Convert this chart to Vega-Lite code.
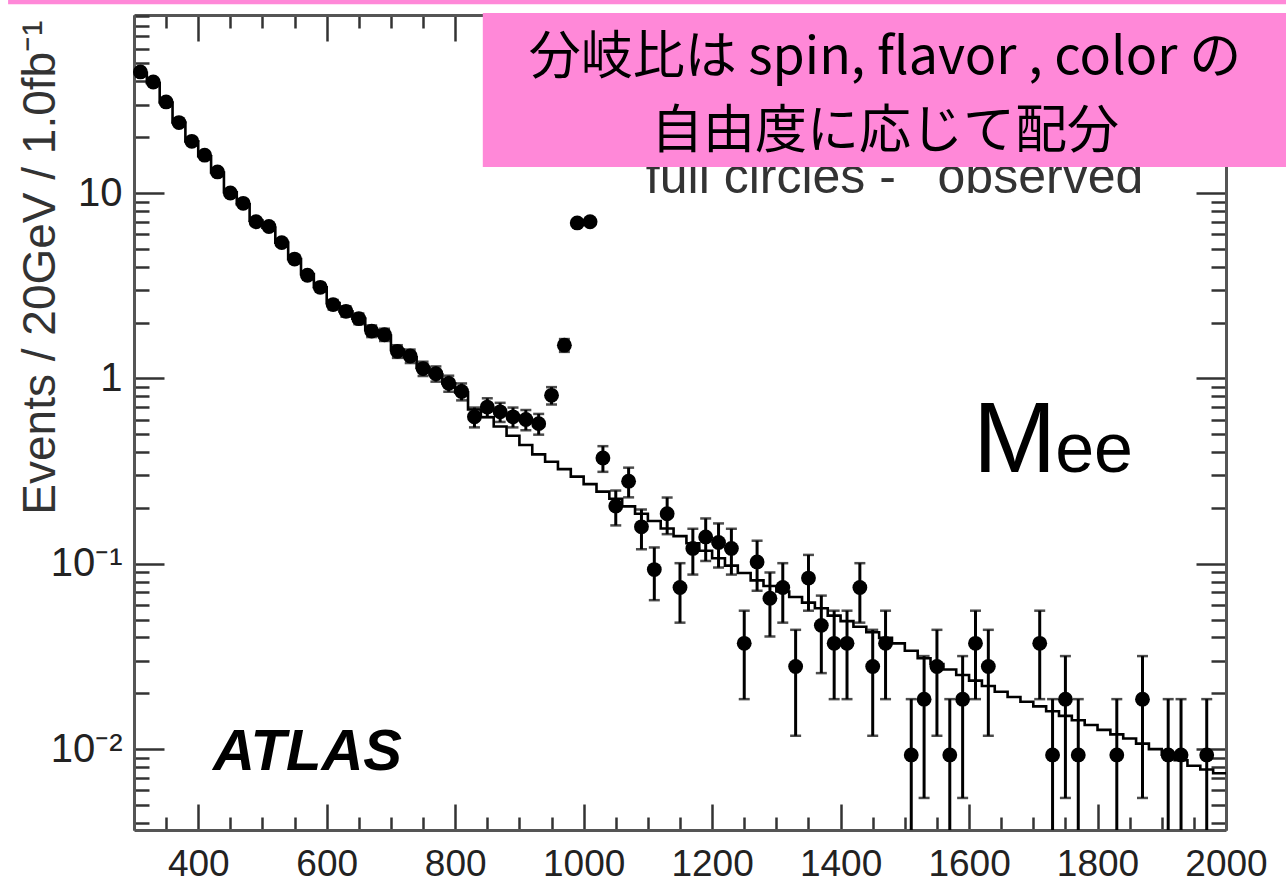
{
  "$schema": "https://vega.github.io/schema/vega-lite/v6.json",
  "width": 1092,
  "height": 815,
  "autosize": {"type": "none"},
  "padding": {"left": 134, "top": 15, "right": 60, "bottom": 51},
  "background": "white",
  "config": {"view": {"stroke": null}, "font": "Liberation Sans"},
  "resolve": {"axis": {"x": "independent", "y": "independent"}},
  "datasets": {
    "pts": [
      {"m":310,"v":45,"lo":44.35,"hi":45.65},
      {"m":330,"v":39.7,"lo":39.09,"hi":40.31},
      {"m":350,"v":31,"lo":30.46,"hi":31.54},
      {"m":370,"v":24,"lo":23.53,"hi":24.47},
      {"m":390,"v":19,"lo":18.58,"hi":19.42},
      {"m":410,"v":16,"lo":15.61,"hi":16.39},
      {"m":430,"v":13,"lo":12.65,"hi":13.35},
      {"m":450,"v":10,"lo":9.7,"hi":10.3},
      {"m":470,"v":8.8,"lo":8.51,"hi":9.09},
      {"m":490,"v":7.0,"lo":6.75,"hi":7.26},
      {"m":510,"v":6.6,"lo":6.35,"hi":6.85},
      {"m":530,"v":5.4,"lo":5.18,"hi":5.62},
      {"m":550,"v":4.4,"lo":4.2,"hi":4.6},
      {"m":570,"v":3.6,"lo":3.42,"hi":3.78},
      {"m":590,"v":3.1,"lo":2.93,"hi":3.27},
      {"m":610,"v":2.5,"lo":2.35,"hi":2.65},
      {"m":630,"v":2.3,"lo":2.15,"hi":2.45},
      {"m":650,"v":2.1,"lo":1.96,"hi":2.24},
      {"m":670,"v":1.8,"lo":1.67,"hi":1.93},
      {"m":690,"v":1.72,"lo":1.59,"hi":1.85},
      {"m":710,"v":1.4,"lo":1.29,"hi":1.51},
      {"m":730,"v":1.32,"lo":1.21,"hi":1.43},
      {"m":750,"v":1.13,"lo":1.03,"hi":1.23},
      {"m":770,"v":1.06,"lo":0.96,"hi":1.16},
      {"m":790,"v":0.94,"lo":0.847,"hi":1.034},
      {"m":810,"v":0.85,"lo":0.761,"hi":0.939},
      {"m":830,"v":0.62,"lo":0.544,"hi":0.696},
      {"m":850,"v":0.7,"lo":0.619,"hi":0.781},
      {"m":870,"v":0.66,"lo":0.582,"hi":0.738},
      {"m":890,"v":0.62,"lo":0.544,"hi":0.696},
      {"m":910,"v":0.6,"lo":0.525,"hi":0.675},
      {"m":930,"v":0.57,"lo":0.497,"hi":0.643},
      {"m":950,"v":0.81,"lo":0.723,"hi":0.897},
      {"m":970,"v":1.51,"lo":1.39,"hi":1.63},
      {"m":990,"v":6.9,"lo":6.65,"hi":7.15},
      {"m":1010,"v":7.0,"lo":6.75,"hi":7.26},
      {"m":1030,"v":0.372,"lo":0.3132,"hi":0.4308},
      {"m":1050,"v":0.2046,"lo":0.161,"hi":0.2482},
      {"m":1070,"v":0.279,"lo":0.2281,"hi":0.3299},
      {"m":1090,"v":0.1581,"lo":0.1198,"hi":0.1964},
      {"m":1110,"v":0.093,"lo":0.0636,"hi":0.1224},
      {"m":1130,"v":0.186,"lo":0.1444,"hi":0.2276},
      {"m":1150,"v":0.0744,"lo":0.0481,"hi":0.1007},
      {"m":1170,"v":0.1209,"lo":0.0874,"hi":0.1544},
      {"m":1190,"v":0.1395,"lo":0.1035,"hi":0.1755},
      {"m":1210,"v":0.1302,"lo":0.0954,"hi":0.165},
      {"m":1230,"v":0.1209,"lo":0.0874,"hi":0.1544},
      {"m":1250,"v":0.0372,"lo":0.0186,"hi":0.0558},
      {"m":1270,"v":0.1023,"lo":0.0715,"hi":0.1331},
      {"m":1290,"v":0.0651,"lo":0.0405,"hi":0.0897},
      {"m":1310,"v":0.0744,"lo":0.0481,"hi":0.1007},
      {"m":1330,"v":0.0279,"lo":0.0118,"hi":0.044},
      {"m":1350,"v":0.0837,"lo":0.0558,"hi":0.1116},
      {"m":1370,"v":0.0465,"lo":0.0257,"hi":0.0673},
      {"m":1390,"v":0.0372,"lo":0.0186,"hi":0.0558},
      {"m":1410,"v":0.0372,"lo":0.0186,"hi":0.0558},
      {"m":1430,"v":0.0744,"lo":0.0481,"hi":0.1007},
      {"m":1450,"v":0.0279,"lo":0.0118,"hi":0.044},
      {"m":1470,"v":0.0372,"lo":0.0186,"hi":0.0558},
      {"m":1510,"v":0.0093,"lo":0.001,"hi":0.0186},
      {"m":1530,"v":0.0186,"lo":0.00545,"hi":0.03175},
      {"m":1550,"v":0.0279,"lo":0.0118,"hi":0.044},
      {"m":1570,"v":0.0093,"lo":0.001,"hi":0.0186},
      {"m":1590,"v":0.0186,"lo":0.00545,"hi":0.03175},
      {"m":1610,"v":0.0372,"lo":0.0186,"hi":0.0558},
      {"m":1630,"v":0.0279,"lo":0.0118,"hi":0.044},
      {"m":1710,"v":0.0372,"lo":0.0186,"hi":0.0558},
      {"m":1730,"v":0.0093,"lo":0.001,"hi":0.0186},
      {"m":1750,"v":0.0186,"lo":0.00545,"hi":0.03175},
      {"m":1770,"v":0.0093,"lo":0.001,"hi":0.0186},
      {"m":1830,"v":0.0093,"lo":0.001,"hi":0.0186},
      {"m":1870,"v":0.0186,"lo":0.00545,"hi":0.03175},
      {"m":1910,"v":0.0093,"lo":0.001,"hi":0.0186},
      {"m":1930,"v":0.0093,"lo":0.001,"hi":0.0186},
      {"m":1970,"v":0.0093,"lo":0.001,"hi":0.0186}
    ],
    "bkg": [
      {"e":300,"b":44.5},{"e":320,"b":39.2},{"e":340,"b":30.8},{"e":360,"b":24.0},{"e":380,"b":19.0},
      {"e":400,"b":15.8},{"e":420,"b":12.9},{"e":440,"b":10.1},{"e":460,"b":8.7},{"e":480,"b":7.1},
      {"e":500,"b":6.5},{"e":520,"b":5.4},{"e":540,"b":4.4},{"e":560,"b":3.65},{"e":580,"b":3.1},
      {"e":600,"b":2.55},{"e":620,"b":2.3},{"e":640,"b":2.1},{"e":660,"b":1.82},{"e":680,"b":1.7},
      {"e":700,"b":1.43},{"e":720,"b":1.3},{"e":740,"b":1.14},{"e":760,"b":1.05},{"e":780,"b":0.94},
      {"e":800,"b":0.84},{"e":820,"b":0.68},{"e":840,"b":0.617},{"e":860,"b":0.55},{"e":880,"b":0.49},
      {"e":900,"b":0.437},{"e":920,"b":0.389},{"e":940,"b":0.355},{"e":960,"b":0.324},{"e":980,"b":0.295},
      {"e":1000,"b":0.269},{"e":1020,"b":0.245},{"e":1040,"b":0.224},{"e":1060,"b":0.204},{"e":1080,"b":0.186},
      {"e":1100,"b":0.17},{"e":1120,"b":0.155},{"e":1140,"b":0.141},{"e":1160,"b":0.129},{"e":1180,"b":0.1175},
      {"e":1200,"b":0.107},{"e":1220,"b":0.0977},{"e":1240,"b":0.0891},{"e":1260,"b":0.0813},{"e":1280,"b":0.0759},
      {"e":1300,"b":0.0708},{"e":1320,"b":0.0661},{"e":1340,"b":0.0617},{"e":1360,"b":0.0575},{"e":1380,"b":0.0525},
      {"e":1400,"b":0.049},{"e":1420,"b":0.0457},{"e":1440,"b":0.0427},{"e":1460,"b":0.0398},{"e":1480,"b":0.0372},
      {"e":1500,"b":0.0339},{"e":1520,"b":0.0309},{"e":1540,"b":0.0288},{"e":1560,"b":0.0269},{"e":1580,"b":0.0251},
      {"e":1600,"b":0.0234},{"e":1620,"b":0.0219},{"e":1640,"b":0.0204},{"e":1660,"b":0.0191},{"e":1680,"b":0.018},
      {"e":1700,"b":0.017},{"e":1720,"b":0.016},{"e":1740,"b":0.0151},{"e":1760,"b":0.0143},{"e":1780,"b":0.0135},
      {"e":1800,"b":0.0127},{"e":1820,"b":0.012},{"e":1840,"b":0.0114},{"e":1860,"b":0.0107},{"e":1880,"b":0.01},
      {"e":1900,"b":0.00933},{"e":1920,"b":0.00871},{"e":1940,"b":0.00813},{"e":1960,"b":0.00776},{"e":1980,"b":0.00741},
      {"e":2000,"b":0.00741}
    ]
  },
  "layer": [
    {
      "data": {"values": [{"x": 1484, "y": 10.0, "t": "full circles -\u00a0\u00a0 observed"}]},
      "mark": {"type": "text", "fontSize": 50, "align": "center", "baseline": "alphabetic", "color": "#333", "font": "Liberation Sans"},
      "encoding": {
        "x": {"field": "x", "type": "quantitative", "scale": {"domain": [300, 2000], "nice": false, "zero": false},
          "axis": {"orient": "bottom", "values": [300,350,400,450,500,550,600,650,700,750,800,850,900,950,1000,1050,1100,1150,1200,1250,1300,1350,1400,1450,1500,1550,1600,1650,1700,1750,1800,1850,1900,1950,2000],
            "labelExpr": "datum.value % 200 == 0 ? '' + datum.value : ''",
            "tickSize": {"condition": {"test": "datum.value % 200 == 0", "value": -26}, "value": -13},
            "tickWidth": 2.5, "tickColor": "#333", "domainColor": "#555", "domainWidth": 3,
            "labelFontSize": 37, "labelColor": "#222", "labelFont": "Liberation Sans", "labelPadding": 71, "labelBaseline": "alphabetic",
            "labelFlush": false, "labelOverlap": false, "labelBound": false, "grid": false, "title": null}},
        "y": {"field": "y", "type": "quantitative", "scale": {"type": "log", "domain": [0.00366, 91.3], "nice": false},
          "axis": {"orient": "left", "values": [0.004,0.005,0.006,0.007,0.008,0.009,0.01,0.02,0.03,0.04,0.05,0.06,0.07,0.08,0.09,0.1,0.2,0.3,0.4,0.5,0.6,0.7,0.8,0.9,1,2,3,4,5,6,7,8,9,10,20,30,40,50,60,70,80,90],
            "labelExpr": "datum.value == 10 ? '10' : datum.value == 1 ? '1' : datum.value == 0.1 ? '10\u207b\u00b9' : datum.value == 0.01 ? '10\u207b\u00b2' : ''",
            "tickSize": {"condition": {"test": "datum.value == 0.01 || datum.value == 0.1 || datum.value == 1 || datum.value == 10", "value": -30}, "value": -15},
            "tickWidth": 2.5, "tickColor": "#333", "domainColor": "#555", "domainWidth": 3,
            "labelFontSize": 40, "labelColor": "#222", "labelFont": "Liberation Sans", "labelPadding": 42,
            "labelOverlap": false, "labelBound": false, "grid": false,
            "title": "Events / 20GeV / 1.0fb\u207b\u00b9", "titleFontSize": 46, "titleFont": "Liberation Sans", "titleFontWeight": "normal",
            "titleColor": "#333", "titleAngle": -90, "titleX": -94, "titleY": 5, "titleAlign": "right", "titleBaseline": "middle"}},
        "text": {"field": "t"}
      }
    },
    {
      "data": {"name": "bkg"},
      "mark": {"type": "line", "interpolate": "step-after", "color": "black", "strokeWidth": 2.6, "clip": true},
      "encoding": {
        "x": {"field": "e", "type": "quantitative",
          "axis": {"orient": "top", "values": [300,350,400,450,500,550,600,650,700,750,800,850,900,950,1000,1050,1100,1150,1200,1250,1300,1350,1400,1450,1500,1550,1600,1650,1700,1750,1800,1850,1900,1950,2000],
            "labels": false,
            "tickSize": {"condition": {"test": "datum.value % 200 == 0", "value": -26}, "value": -13},
            "tickWidth": 2.5, "tickColor": "#333", "domainColor": "#555", "domainWidth": 3, "grid": false, "title": null}},
        "y": {"field": "b", "type": "quantitative",
          "axis": {"orient": "right", "values": [0.004,0.005,0.006,0.007,0.008,0.009,0.01,0.02,0.03,0.04,0.05,0.06,0.07,0.08,0.09,0.1,0.2,0.3,0.4,0.5,0.6,0.7,0.8,0.9,1,2,3,4,5,6,7,8,9,10,20,30,40,50,60,70,80,90],
            "labels": false,
            "tickSize": {"condition": {"test": "datum.value == 0.01 || datum.value == 0.1 || datum.value == 1 || datum.value == 10", "value": -30}, "value": -15},
            "tickWidth": 2.5, "tickColor": "#333", "domainColor": "#555", "domainWidth": 3, "grid": false, "title": null}}
      }
    },
    {
      "data": {"name": "pts"},
      "mark": {"type": "rule", "color": "black", "strokeWidth": 3, "clip": true},
      "encoding": {
        "x": {"field": "m", "type": "quantitative", "axis": null},
        "y": {"field": "lo", "type": "quantitative", "axis": null},
        "y2": {"field": "hi"}
      }
    },
    {
      "data": {"name": "pts"},
      "mark": {"type": "tick", "orient": "horizontal", "size": 11, "thickness": 2.5, "color": "black", "clip": true},
      "encoding": {
        "x": {"field": "m", "type": "quantitative", "axis": null},
        "y": {"field": "lo", "type": "quantitative", "axis": null}
      }
    },
    {
      "data": {"name": "pts"},
      "mark": {"type": "tick", "orient": "horizontal", "size": 11, "thickness": 2.5, "color": "black", "clip": true},
      "encoding": {
        "x": {"field": "m", "type": "quantitative", "axis": null},
        "y": {"field": "hi", "type": "quantitative", "axis": null}
      }
    },
    {
      "data": {"name": "pts"},
      "mark": {"type": "circle", "color": "black", "opacity": 1, "size": 220},
      "encoding": {
        "x": {"field": "m", "type": "quantitative", "axis": null},
        "y": {"field": "v", "type": "quantitative", "axis": null}
      }
    },
    {
      "data": {"values": [{"x": 423, "y": 0.0077, "t": "ATLAS"}]},
      "mark": {"type": "text", "fontSize": 58, "fontWeight": "bold", "fontStyle": "italic", "align": "left", "baseline": "alphabetic", "color": "black", "font": "Liberation Sans"},
      "encoding": {
        "x": {"field": "x", "type": "quantitative", "axis": null},
        "y": {"field": "y", "type": "quantitative", "axis": null},
        "text": {"field": "t"}
      }
    },
    {
      "data": {"values": [{"x": 1606, "y": 0.313, "t": "M"}]},
      "mark": {"type": "text", "fontSize": 100, "align": "left", "baseline": "alphabetic", "color": "black", "font": "Liberation Sans"},
      "encoding": {
        "x": {"field": "x", "type": "quantitative", "axis": null},
        "y": {"field": "y", "type": "quantitative", "axis": null},
        "text": {"field": "t"}
      }
    },
    {
      "data": {"values": [{"x": 1734, "y": 0.313, "t": "ee"}]},
      "mark": {"type": "text", "fontSize": 70, "align": "left", "baseline": "alphabetic", "color": "black", "font": "Liberation Sans"},
      "encoding": {
        "x": {"field": "x", "type": "quantitative", "axis": null},
        "y": {"field": "y", "type": "quantitative", "axis": null},
        "text": {"field": "t"}
      }
    },
    {
      "data": {"values": [{"x1": 843, "x2": 2094, "y1": 13.8, "y2": 93.6}, {"x1": 104, "x2": 2094, "y1": 104.5, "y2": 130}]},
      "mark": {"type": "rect", "color": "#ff88d8", "opacity": 1},
      "encoding": {
        "x": {"field": "x1", "type": "quantitative", "axis": null},
        "x2": {"field": "x2"},
        "y": {"field": "y1", "type": "quantitative", "axis": null},
        "y2": {"field": "y2"}
      }
    },
    {
      "data": {"values": [{"x": 1469, "y": 53.5, "t": "分岐比は spin, flavor , color の"}, {"x": 1469, "y": 21.3, "t": "自由度に応じて配分"}]},
      "mark": {"type": "text", "fontSize": 52, "align": "center", "baseline": "middle", "color": "black", "font": "Noto Sans CJK JP"},
      "encoding": {
        "x": {"field": "x", "type": "quantitative", "axis": null},
        "y": {"field": "y", "type": "quantitative", "axis": null},
        "text": {"field": "t"}
      }
    }
  ]
}
